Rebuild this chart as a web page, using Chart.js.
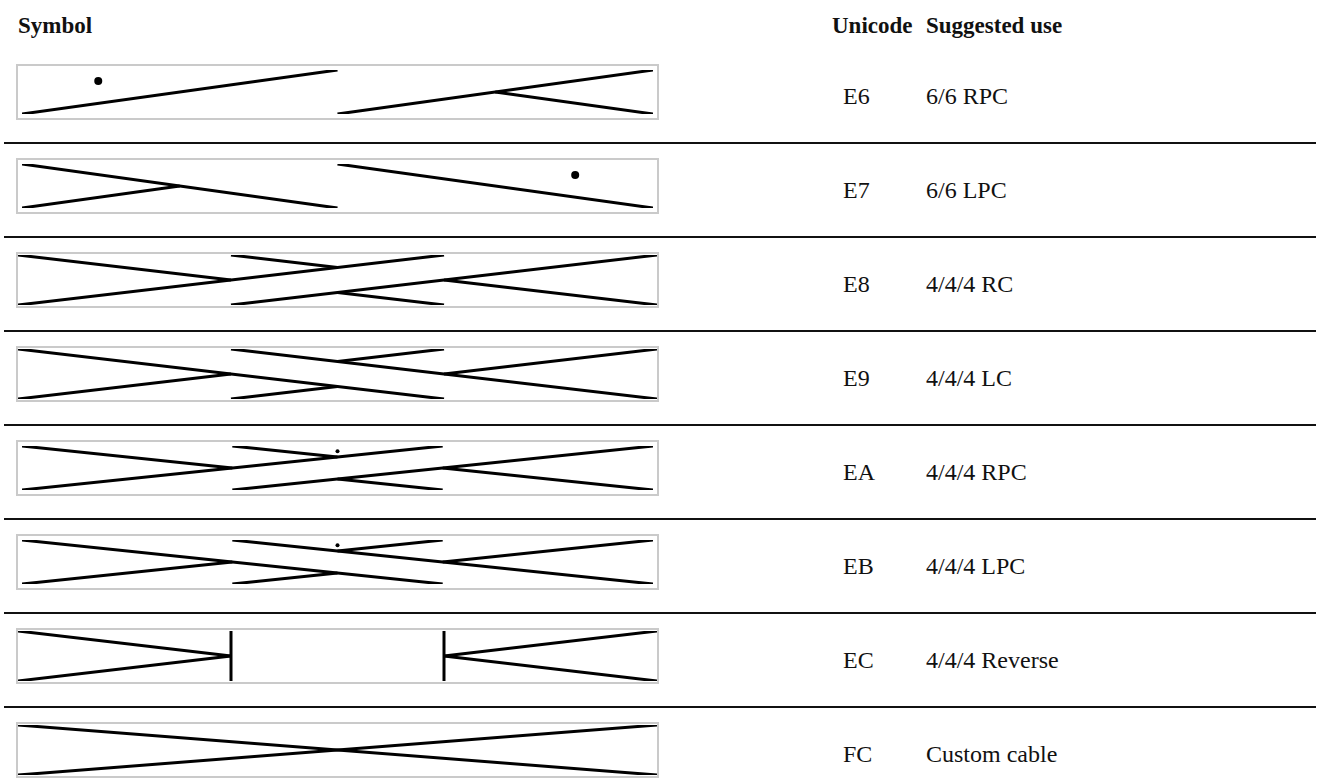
<!DOCTYPE html>
<html>
<head>
<meta charset="utf-8">
<script src="https://cdn.jsdelivr.net/npm/chart.js@4/dist/chart.umd.min.js"></script>
<style>
  html, body { margin: 0; padding: 0; background: #fff; }
  body { width: 1322px; height: 780px; position: relative; overflow: hidden;
         font-family: "Liberation Serif", "DejaVu Serif", serif; color: #111; }
  .hdr { position: absolute; top: 12px; font-weight: bold; font-size: 23px; line-height: 28px; }
  .cell { position: absolute; font-size: 24px; line-height: 28px; }
  .rule { position: absolute; left: 4px; width: 1312px; height: 2px; background: #111; }
  .box { position: absolute; left: 16px; width: 643px; height: 56px;
         border: 2px solid #cacaca; box-sizing: border-box; }
  .box canvas { display: block; }
</style>
</head>
<body>
<div class="hdr" style="left:18px">Symbol</div>
<div class="hdr" style="left:832px">Unicode</div>
<div class="hdr" style="left:926px">Suggested use</div>
<div id="rows"></div>
<script>
(function () {
  "use strict";

  // Table text
  var codes = ["E6", "E7", "E8", "E9", "EA", "EB", "EC", "FC"];
  var uses = ["6/6 RPC", "6/6 LPC", "4/4/4 RC", "4/4/4 LC", "4/4/4 RPC", "4/4/4 LPC", "4/4/4 Reverse", "Custom cable"];

  // Symbol strokes: [x1, y1, x2, y2] in stitches (0..12) and height (0 bottom .. 1 top)
  var segE6 = [[0, 0, 6, 1], [6, 0, 12, 1], [12, 0, 9, 0.5]];
  var segE7 = [[0, 1, 6, 0], [6, 1, 12, 0], [0, 0, 3, 0.5]];
  var segE8 = [[0, 1, 4, 0.5], [0, 0, 8, 1], [4, 1, 6, 0.75], [6, 0.25, 8, 0], [4, 0, 12, 1], [8, 0.5, 12, 0]];
  var segE9 = [[0, 1, 8, 0], [0, 0, 4, 0.5], [4, 1, 12, 0], [6, 0.75, 8, 1], [4, 0, 6, 0.25], [8, 0.5, 12, 1]];
  var segEA = segE8;
  var segEB = segE9;
  var segEC = [[0, 1, 4, 0.5], [0, 0, 4, 0.5], [4, 0, 4, 1], [8, 0, 8, 1], [8, 0.5, 12, 1], [8, 0.5, 12, 0]];
  var segFC = [[0, 1, 12, 0], [0, 0, 12, 1]];

  // Purl dots: [x, y, size]
  var dotE6 = [[1.45, 0.75, 4]];
  var dotE7 = [[10.52, 0.75, 4]];
  var dotEA = [[6, 0.88, 2]];
  var dotEB = [[6, 0.88, 2]];

  var segments = [segE6, segE7, segE8, segE9, segEA, segEB, segEC, segFC];
  var dots = [dotE6, dotE7, [], [], dotEA, dotEB, [], []];

  var ROW0 = 64, PITCH = 94;
  var rowsEl = document.getElementById("rows");

  function drawSymbol(canvas, segs, pts) {
    var datasets = segs.map(function (s) {
      return {
        type: "line",
        data: [{ x: s[0], y: s[1] }, { x: s[2], y: s[3] }],
        borderColor: "#000",
        borderWidth: 3,
        pointRadius: 0,
        tension: 0,
        fill: false,
      };
    });
    if (pts.length) {
      datasets.push({
        type: "scatter",
        data: pts.map(function (p) { return { x: p[0], y: p[1] }; }),
        pointRadius: pts.map(function (p) { return p[2]; }),
        pointBackgroundColor: "#000",
        pointBorderWidth: 0,
        showLine: false,
      });
    }
    new Chart(canvas.getContext("2d"), {
      type: "scatter",
      data: { datasets: datasets },
      options: {
        responsive: false,
        animation: false,
        events: [],
        layout: { padding: { top: 1, bottom: 1, left: 0, right: 0 } },
        plugins: { legend: { display: false }, tooltip: { enabled: false } },
        scales: {
          x: { type: "linear", min: 0, max: 12, display: false },
          y: { type: "linear", min: 0, max: 1, display: false },
        },
      },
    });
  }

  codes.forEach(function (code, i) {
    var top = ROW0 + i * PITCH;

    var box = document.createElement("div");
    box.className = "box";
    box.style.top = top + "px";
    var canvas = document.createElement("canvas");
    canvas.width = 639;
    canvas.height = 52;
    box.appendChild(canvas);
    rowsEl.appendChild(box);

    var c1 = document.createElement("div");
    c1.className = "cell";
    c1.style.left = "843px";
    c1.style.top = (top + 18) + "px";
    c1.textContent = code;
    rowsEl.appendChild(c1);

    var c2 = document.createElement("div");
    c2.className = "cell";
    c2.style.left = "926px";
    c2.style.top = (top + 18) + "px";
    c2.textContent = uses[i];
    rowsEl.appendChild(c2);

    if (i < codes.length - 1) {
      var rule = document.createElement("div");
      rule.className = "rule";
      rule.style.top = (top + 78) + "px";
      rowsEl.appendChild(rule);
    }

    drawSymbol(canvas, segments[i], dots[i]);
  });
})();
</script>
</body>
</html>
